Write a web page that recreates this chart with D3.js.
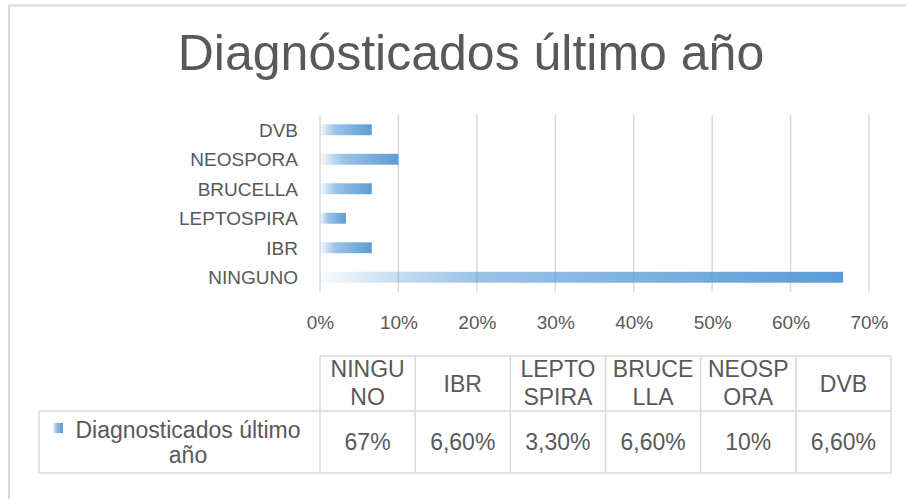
<!DOCTYPE html>
<html>
<head>
    <meta charset="utf-8">
    <title>Diagnósticados último año</title>
    <script src="https://d3js.org/d3.v7.min.js"></script>
</head>
<style>
    body { margin: 0; background: #fff; }
    svg text { font-family: "Liberation Sans", Arial, sans-serif; fill: #595959; }
    .grid line { stroke: #d9d9d9; stroke-width: 1.5; }
    .table line { stroke: #d9d9d9; stroke-width: 1.5; }
</style>
<body>
<svg id="chart" width="906" height="499"></svg>
<script>
    // datos
    var categories = ["NINGUNO", "IBR", "LEPTOSPIRA", "BRUCELLA", "NEOSPORA", "DVB"];
    var values = [0.667, 0.066, 0.033, 0.066, 0.10, 0.066];
    var tableLabels = ["67%", "6,60%", "3,30%", "6,60%", "10%", "6,60%"];
    var headerLines = [["NINGU", "NO"], ["IBR"], ["LEPTO", "SPIRA"], ["BRUCE", "LLA"], ["NEOSP", "ORA"], ["DVB"]];
    var xTicks = [0, 0.1, 0.2, 0.3, 0.4, 0.5, 0.6, 0.7];
    var seriesName = ["Diagnosticados último", "año"];
    var title = "Diagnósticados último año";

    var svg = d3.select("#chart");

    // borde del gráfico
    svg.append("rect")
        .attr("x", 9).attr("y", 5.5)
        .attr("width", 940).attr("height", 540)
        .attr("fill", "none").attr("stroke", "#d9d9d9").attr("stroke-width", 2);

    // degradado de las barras
    var defs = svg.append("defs");
    var grad = defs.append("linearGradient").attr("id", "barGrad")
        .attr("x1", 0).attr("x2", 1).attr("y1", 0).attr("y2", 0);
    [[0, 0.04], [0.15, 0.35], [0.3, 0.6], [1, 1]].forEach(function (s) {
        grad.append("stop").attr("offset", s[0])
            .attr("stop-color", "#5b9bd5").attr("stop-opacity", s[1]);
    });

    // titulo
    svg.append("text")
        .attr("x", 471).attr("y", 70)
        .attr("text-anchor", "middle")
        .style("font-size", "50px")
        .text(title);

    // escalas
    var x = d3.scaleLinear().domain([0, 0.7]).range([320, 869]);
    var y = d3.scaleBand()
        .domain(categories.slice().reverse())
        .range([115, 292])
        .paddingInner(0.63).paddingOuter(0.315);

    // lineas de cuadricula
    svg.append("g").attr("class", "grid")
        .selectAll("line").data(xTicks).enter().append("line")
        .attr("x1", function (d) { return x(d); })
        .attr("x2", function (d) { return x(d); })
        .attr("y1", 115).attr("y2", 292);

    // barras
    svg.append("g").selectAll("rect")
        .data(categories).enter().append("rect")
        .attr("x", x(0))
        .attr("y", function (d) { return y(d); })
        .attr("width", function (d, i) { return x(values[i]) - x(0); })
        .attr("height", y.bandwidth())
        .attr("fill", "url(#barGrad)");

    // etiquetas del eje vertical
    svg.append("g").selectAll("text")
        .data(categories).enter().append("text")
        .attr("x", 298)
        .attr("y", function (d) { return y(d) + y.bandwidth() / 2; })
        .attr("dy", "0.36em")
        .attr("text-anchor", "end")
        .style("font-size", "19px")
        .text(function (d) { return d; });

    // eje horizontal
    var xAxis = d3.axisBottom(x)
        .tickValues(xTicks)
        .tickFormat(d3.format(".0%"))
        .tickSize(0)
        .tickPadding(24);
    var gx = svg.append("g").attr("transform", "translate(0,292)").call(xAxis);
    gx.select(".domain").remove();
    gx.selectAll("text").style("font-size", "19px").attr("fill", "#595959")
        .style("font-family", "'Liberation Sans', Arial, sans-serif");

    // tabla de datos
    var col = d3.scaleBand().domain(categories).range([320, 891]);
    var tTop = 356, tMid = 411, tBottom = 473, tLeft = 39;
    var tRight = col.range()[1];
    var table = svg.append("g").attr("class", "table");

    table.append("line").attr("x1", 320).attr("x2", tRight).attr("y1", tTop).attr("y2", tTop);
    table.append("line").attr("x1", tLeft).attr("x2", tRight).attr("y1", tMid).attr("y2", tMid);
    table.append("line").attr("x1", tLeft).attr("x2", tRight).attr("y1", tBottom).attr("y2", tBottom);
    table.append("line").attr("x1", tLeft).attr("x2", tLeft).attr("y1", tMid).attr("y2", tBottom);
    table.selectAll("line.v").data(categories.concat(["end"])).enter().append("line")
        .attr("class", "v")
        .attr("x1", function (d) { return d === "end" ? tRight : col(d); })
        .attr("x2", function (d) { return d === "end" ? tRight : col(d); })
        .attr("y1", tTop).attr("y2", tBottom);

    // encabezados
    var head = table.selectAll("text.h").data(categories).enter().append("text")
        .attr("class", "h")
        .attr("text-anchor", "middle")
        .style("font-size", "23px");
    head.each(function (d, i) {
        var lines = headerLines[i];
        var cx = col(d) + col.bandwidth() / 2;
        var t = d3.select(this);
        lines.forEach(function (l, j) {
            var yy = lines.length === 1 ? 392 : 377 + j * 28;
            t.append("tspan").attr("x", cx).attr("y", yy).text(l);
        });
    });

    // valores
    table.selectAll("text.v").data(categories).enter().append("text")
        .attr("class", "v")
        .attr("text-anchor", "middle")
        .attr("x", function (d) { return col(d) + col.bandwidth() / 2; })
        .attr("y", 450)
        .style("font-size", "23px")
        .text(function (d, i) { return tableLabels[i]; });

    // leyenda
    table.append("rect")
        .attr("x", 53).attr("y", 423).attr("width", 10).attr("height", 10)
        .attr("fill", "url(#barGrad)");
    var leg = table.append("text").attr("text-anchor", "middle").style("font-size", "23px");
    seriesName.forEach(function (l, j) {
        leg.append("tspan").attr("x", 188).attr("y", 438 + j * 25).text(l);
    });
</script>
</body>
</html>
